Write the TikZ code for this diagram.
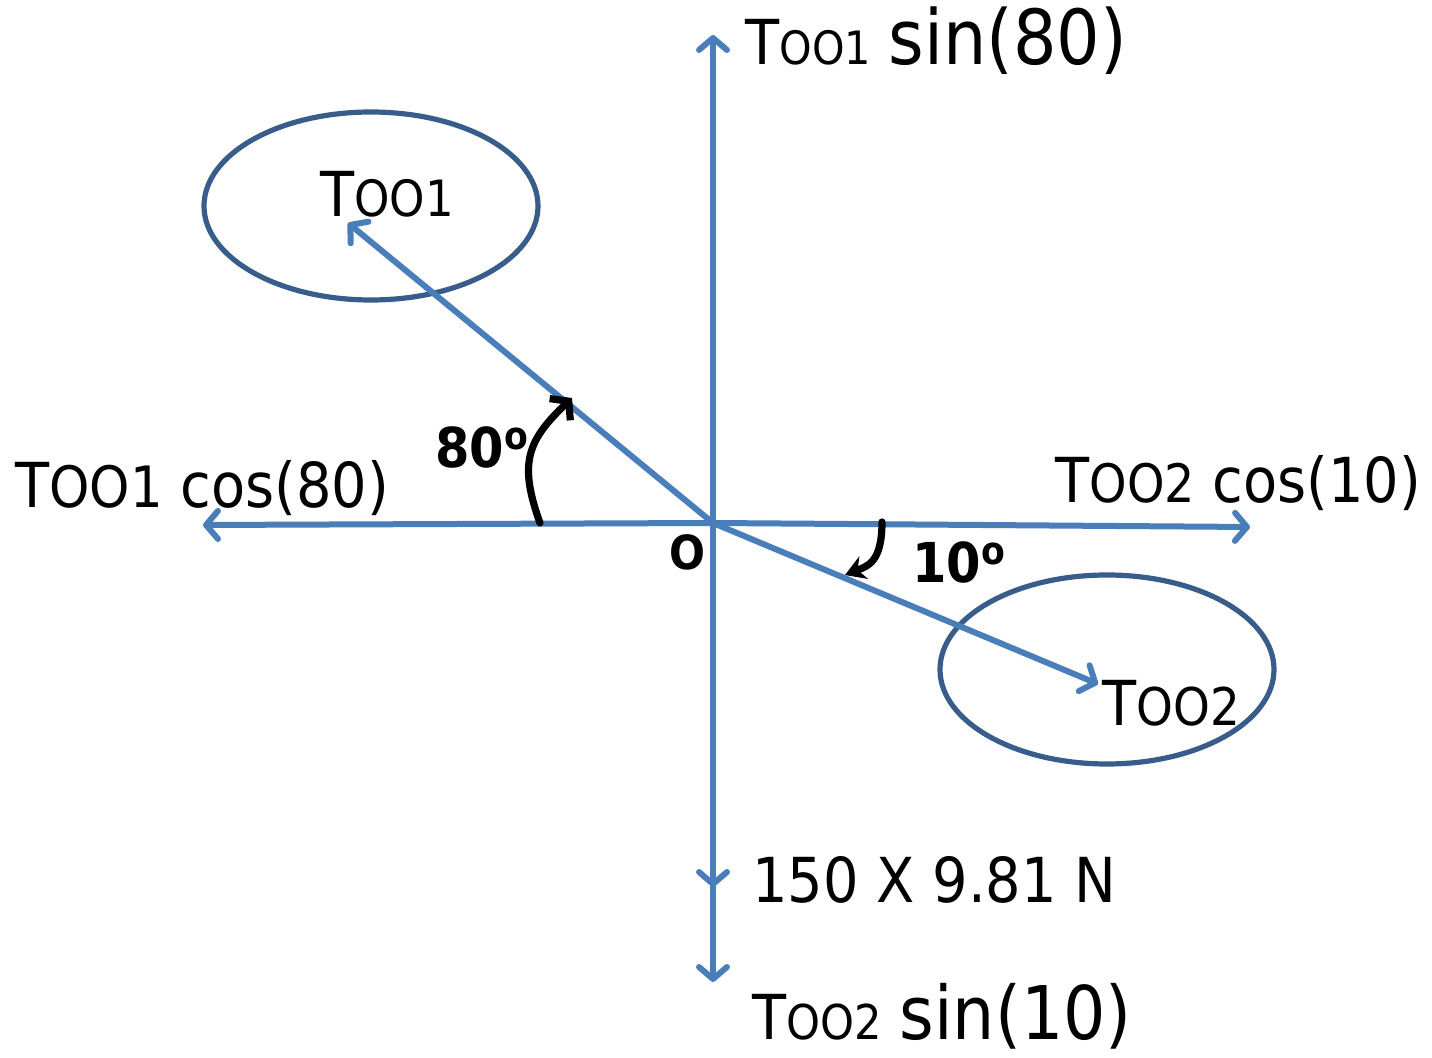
\documentclass[tikz,border=0pt]{standalone}
\usepackage{fontspec}
\setmainfont[FakeStretch=0.9]{DejaVu Sans}
\usetikzlibrary{shapes.geometric, arrows.meta, positioning}
\definecolor{fblue}{RGB}{74,126,187}
\definecolor{eblue}{RGB}{56,93,138}
\newcommand{\tsz}[1]{\fontsize{#1}{#1}\selectfont}
\newcommand{\too}[2]{T{\tsz{#2}OO#1}}

\begin{document}
\begin{tikzpicture}[x=0.5pt, y=-0.5pt,
  force/.style={
    draw=fblue, line width=3pt, line cap=round,
    -{Straight Barb[length=6pt, width=14pt, line join=round, line cap=round]}
  },
  ring/.style={ellipse, draw=eblue, line width=2.6pt, inner sep=0pt},
  lbl/.style={anchor=base west, inner sep=0pt, font=\tsz{31}},
  deg/.style={anchor=base west, inner sep=0pt, font=\bfseries\tsz{27.5}},
  turn/.style={draw=black, line width=3.6pt, line cap=round}
]
  \useasboundingbox (0,0) rectangle (1432,1058);

  % axes
  \coordinate (O) at (713,523);
  \coordinate (up) at (713,35);
  \coordinate (left) at (203,525);
  \coordinate (right) at (1250,527);
  \coordinate (wt) at (713,887);
  \coordinate (down) at (713,982);

  \draw[force] (O) -- (up);
  \draw[force] (O) -- (left);
  \draw[force] (O) -- (right);
  \draw[force] (O) -- (wt);
  \draw[force] (wt) -- (down);

  % cables
  \node[ring, minimum width=167pt, minimum height=94pt] (e1) at (371,206) {};
  \node[ring, minimum width=167pt, minimum height=94.5pt] (e2) at (1107,669.5) {};
  \coordinate (t1) at (348,223);
  \coordinate (t2) at (1098,684);
  \draw[force] (O) -- (t1);
  \draw[force] (O) -- (t2);

  \node[lbl] (t1lbl) at (320,217) {\too{1}{25}};
  \node[lbl] (t2lbl) at (1102,726) {\too{2}{26}};

  % components
  \node[lbl] (sin80) at (745,65) {\too{1}{23} {\tsz{38}sin(80)}};
  \node[lbl] (cos80) at (15,508) {\too{1}{28.5} cos(80)};
  \node[lbl] (cos10) at (1055,503) {\too{2}{26.5} cos(10)};
  \node[lbl] (wtlbl) at (752,903) {150 X 9.81 N};
  \node[lbl] (sin10) at (752,1040) {\too{2}{24} {\tsz{37}sin(10)}};

  % angles
  \node[font=\bfseries\tsz{23.5}, inner sep=0pt] (olbl) at (687,552) {O};
  \node[deg] (a80lbl) at (435,468) {80\textsuperscript{o}};
  \node[deg] (a10lbl) at (912,583) {10\textsuperscript{o}};

  \coordinate (a80s) at (540,523);
  \coordinate (a80e) at (572,398);
  \draw[turn, -{Straight Barb[length=6pt, width=15pt]}]
    (a80s) .. controls (518,462) and (528,440) .. (a80e);
  \coordinate (a10s) at (882,522);
  \coordinate (a10e) at (845,575);
  \draw[turn, -{Stealth[length=10pt, width=12pt]}]
    (a10s) .. controls (882,562) and (868,566) .. (a10e);
\end{tikzpicture}
\end{document}
